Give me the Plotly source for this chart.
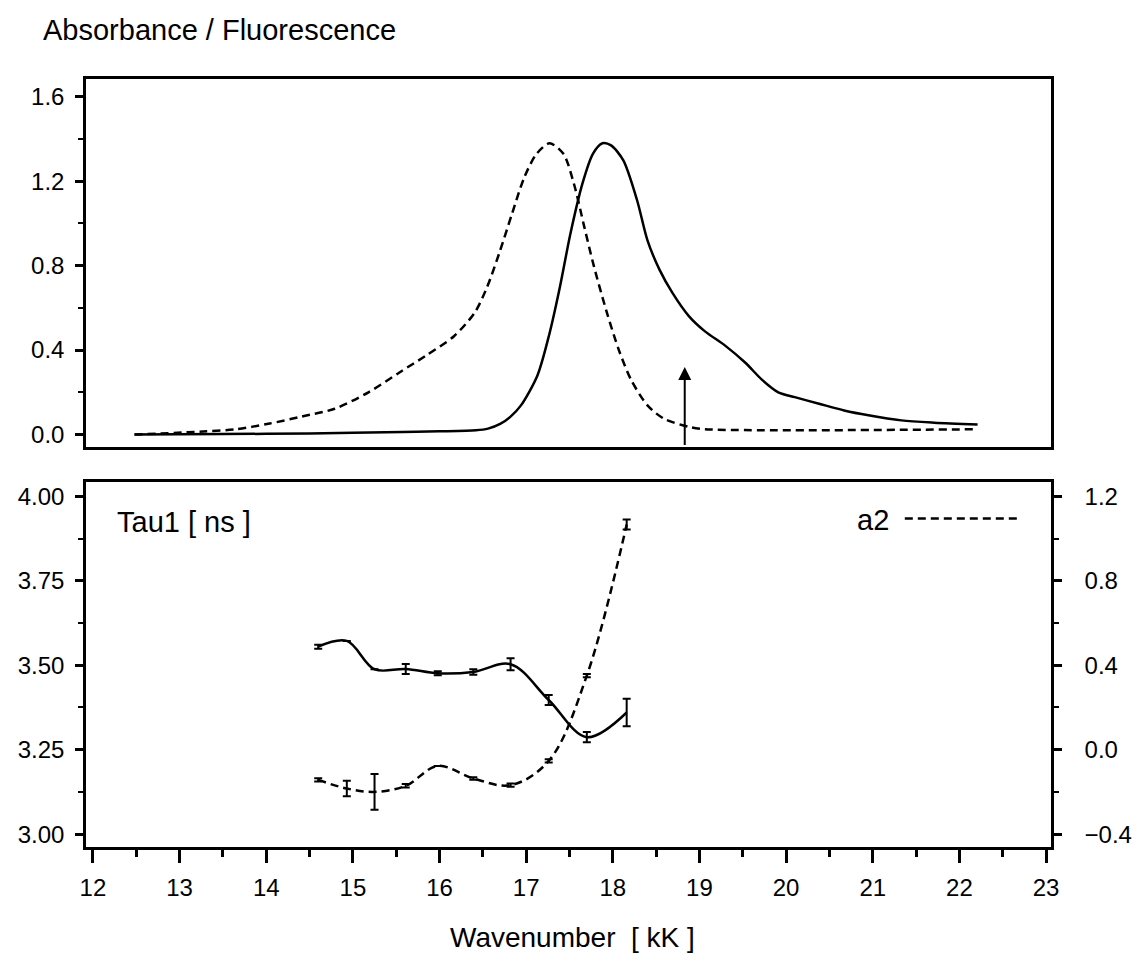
import plotly.graph_objects as go

# ---------------- data ----------------
# top panel: absorbance (solid) and fluorescence (dashed) spectra, wavenumber in kK
abs_x = [12.48, 13.5, 14.5, 15.57, 16.0, 16.42, 16.56, 16.70, 16.82, 16.94, 17.13, 17.27,
         17.39, 17.51, 17.65, 17.77, 17.88, 17.98, 18.12, 18.28, 18.40, 18.54, 18.69,
         18.88, 19.06, 19.30, 19.53, 19.72, 19.91, 20.10, 20.38, 20.67, 20.95, 21.33,
         21.71, 22.21]
abs_y = [0.0, 0.002, 0.005, 0.012, 0.015, 0.02, 0.028, 0.05, 0.085, 0.138, 0.28, 0.48,
         0.70, 0.95, 1.19, 1.33, 1.38, 1.37, 1.30, 1.11, 0.92, 0.78, 0.67,
         0.56, 0.49, 0.42, 0.34, 0.26, 0.20, 0.177, 0.146, 0.114, 0.091, 0.067,
         0.056, 0.047]

fl_x = [12.48, 13.27, 13.65, 14.04, 14.41, 14.79, 15.18, 15.56, 15.84, 16.17, 16.41,
        16.55, 16.69, 16.84, 16.98, 17.12, 17.27, 17.43, 17.55, 17.67, 17.78, 17.93,
        18.07, 18.21, 18.40, 18.59, 18.88, 19.06, 22.21]
fl_y = [0.0, 0.014, 0.025, 0.052, 0.085, 0.122, 0.20, 0.30, 0.373, 0.467, 0.58,
        0.70, 0.86, 1.05, 1.22, 1.33, 1.38, 1.33, 1.19, 0.985, 0.80, 0.58,
        0.40, 0.26, 0.138, 0.075, 0.036, 0.025, 0.025]

excitation_kk = 18.83
excitation_arrow = [-0.057, 0.32]

# bottom panel: lifetime Tau1 (left axis, solid) and amplitude a2 (right axis, dashed)
wn = [14.60, 14.93, 15.25, 15.61, 15.98, 16.39, 16.82, 17.26, 17.70, 18.16]
tau1 = [3.555, 3.572, 3.488, 3.489, 3.476, 3.480, 3.503, 3.397, 3.287, 3.360]
tau1_err = [0.006, None, None, 0.015, 0.006, 0.008, 0.018, 0.015, 0.015, 0.041]
a2 = [-0.143, -0.184, -0.200, -0.171, -0.077, -0.136, -0.168, -0.053, 0.351, 1.067]
a2_err = [0.008, 0.037, 0.085, 0.008, None, 0.006, 0.008, 0.008, 0.008, 0.024]

x_ticks = list(range(12, 24))
top_yticks = [0.0, 0.4, 0.8, 1.2, 1.6]
tau_ticks = [3.00, 3.25, 3.50, 3.75, 4.00]
a2_ticks = [-0.4, 0.0, 0.4, 0.8, 1.2]

# ---------------- figure ----------------
W, H = 1138, 957
FONT = "Liberation Sans"
DASH = "8px,5px"

def px_x(p):
    return p / W

def px_y(p):
    return 1 - p / H

xdom = [px_x(81), px_x(1058)]
xrange_ = [11.92, 23.057]

fig = go.Figure()

fig.add_trace(go.Scatter(x=abs_x, y=abs_y, xaxis="x", yaxis="y", mode="lines",
                         line=dict(color="black", width=2.5, shape="spline", smoothing=0.8),
                         showlegend=False, hoverinfo="skip"))
fig.add_trace(go.Scatter(x=fl_x, y=fl_y, xaxis="x", yaxis="y", mode="lines",
                         line=dict(color="black", width=2.5, shape="spline", smoothing=0.8, dash=DASH),
                         showlegend=False, hoverinfo="skip"))

fig.add_trace(go.Scatter(x=wn, y=tau1, xaxis="x2", yaxis="y2", mode="lines",
                         line=dict(color="black", width=2.5, shape="spline"),
                         error_y=dict(type="data", array=tau1_err, visible=True,
                                      color="black", thickness=2, width=4),
                         showlegend=False, hoverinfo="skip"))
fig.add_trace(go.Scatter(x=wn, y=a2, xaxis="x2", yaxis="y3", mode="lines",
                         line=dict(color="black", width=2.5, shape="spline", dash=DASH),
                         error_y=dict(type="data", array=a2_err, visible=True,
                                      color="black", thickness=2, width=4),
                         showlegend=False, hoverinfo="skip"))

axis_common = dict(showline=True, linecolor="black", linewidth=2.5, showgrid=False,
                   zeroline=False, tickcolor="black", tickwidth=2.5,
                   tickfont=dict(family=FONT, size=24, color="black"))

fig.update_layout(
    width=W, height=H,
    margin=dict(l=0, r=0, t=0, b=0),
    paper_bgcolor="white", plot_bgcolor="white",
    showlegend=False,
    xaxis=dict(domain=xdom, range=xrange_, anchor="y", showticklabels=False, ticks="",
               mirror=True, **axis_common),
    yaxis=dict(domain=[px_y(447), px_y(79)], range=[-0.057, 1.685], anchor="x",
               tickvals=top_yticks, ticktext=[f"{v:.1f}" for v in top_yticks],
               ticks="outside", ticklen=8, ticklabelstandoff=6, mirror=True,
               minor=dict(ticks="outside", ticklen=5, tickmode="linear", tick0=0, dtick=0.2,
                          tickcolor="black", tickwidth=2),
               **axis_common),
    xaxis2=dict(domain=xdom, range=xrange_, anchor="y2",
                tickvals=x_ticks, ticktext=[str(v) for v in x_ticks],
                ticks="outside", ticklen=13, ticklabelstandoff=4, mirror=True,
                minor=dict(ticks="outside", ticklen=7, tickmode="linear", tick0=12, dtick=0.5,
                           tickcolor="black", tickwidth=2.5),
                **axis_common),
    yaxis2=dict(domain=[px_y(848), px_y(483)], range=[2.9615, 4.041], anchor="x2",
                tickvals=tau_ticks, ticktext=[f"{v:.2f}" for v in tau_ticks],
                ticks="outside", ticklen=8, ticklabelstandoff=6, mirror=True,
                minor=dict(ticks="outside", ticklen=5, tickmode="linear", tick0=3, dtick=0.125,
                           tickcolor="black", tickwidth=2),
                **axis_common),
    yaxis3=dict(overlaying="y2", side="right", anchor="x2", range=[-0.4615, 1.266],
                tickvals=a2_ticks, ticktext=[f"{v:.1f}".replace("-", "\u2212") for v in a2_ticks],
                ticks="outside", ticklen=8, ticklabelstandoff=18,
                minor=dict(ticks="outside", ticklen=5, tickmode="linear", tick0=0, dtick=0.2,
                           tickcolor="black", tickwidth=2),
                **axis_common),
)

txt = dict(family=FONT, color="black")
fig.add_annotation(text="Absorbance / Fluorescence", xref="paper", yref="paper",
                   x=px_x(35), y=px_y(30), xanchor="left", yanchor="middle",
                   showarrow=False, font=dict(size=29, **txt))
fig.add_annotation(text="Wavenumber  [ kK ]", xref="paper", yref="paper",
                   x=px_x(574), y=px_y(938), xanchor="center", yanchor="middle",
                   showarrow=False, font=dict(size=28, **txt))
fig.add_annotation(text="Tau1 [ ns ]", xref="paper", yref="paper",
                   x=px_x(110), y=px_y(523), xanchor="left", yanchor="middle",
                   showarrow=False, font=dict(size=29, **txt))
fig.add_annotation(text="a2", xref="paper", yref="paper",
                   x=px_x(860), y=px_y(521), xanchor="left", yanchor="middle",
                   showarrow=False, font=dict(size=29, **txt))
fig.add_shape(type="line", xref="paper", yref="paper",
              x0=px_x(910), x1=px_x(1027), y0=px_y(519), y1=px_y(519),
              line=dict(color="black", width=2.5, dash=DASH))

fig.add_annotation(x=excitation_kk, y=excitation_arrow[1], xref="x", yref="y",
                   ax=excitation_kk, ay=excitation_arrow[0], axref="x", ayref="y",
                   text="", showarrow=True, arrowhead=2, arrowsize=1.3, arrowwidth=2,
                   arrowcolor="black")

fig.write_html("out.html")
